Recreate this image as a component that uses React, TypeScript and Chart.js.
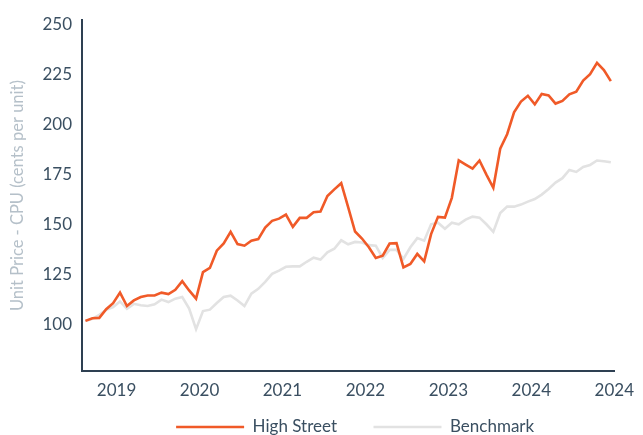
import React, { useEffect, useRef } from "react";
import { Chart, registerables } from "chart.js";

Chart.register(...registerables);

const months: string[] = [
  "Aug 2018", "Sep 2018", "Oct 2018", "Nov 2018", "Dec 2018",
  "Jan 2019", "Feb 2019", "Mar 2019", "Apr 2019", "May 2019", "Jun 2019", "Jul 2019", "Aug 2019", "Sep 2019", "Oct 2019", "Nov 2019", "Dec 2019",
  "Jan 2020", "Feb 2020", "Mar 2020", "Apr 2020", "May 2020", "Jun 2020", "Jul 2020", "Aug 2020", "Sep 2020", "Oct 2020", "Nov 2020", "Dec 2020",
  "Jan 2021", "Feb 2021", "Mar 2021", "Apr 2021", "May 2021", "Jun 2021", "Jul 2021", "Aug 2021", "Sep 2021", "Oct 2021", "Nov 2021", "Dec 2021",
  "Jan 2022", "Feb 2022", "Mar 2022", "Apr 2022", "May 2022", "Jun 2022", "Jul 2022", "Aug 2022", "Sep 2022", "Oct 2022", "Nov 2022", "Dec 2022",
  "Jan 2023", "Feb 2023", "Mar 2023", "Apr 2023", "May 2023", "Jun 2023", "Jul 2023", "Aug 2023", "Sep 2023", "Oct 2023", "Nov 2023", "Dec 2023",
  "Jan 2024", "Feb 2024", "Mar 2024", "Apr 2024", "May 2024", "Jun 2024", "Jul 2024", "Aug 2024", "Sep 2024", "Oct 2024", "Nov 2024", "Dec 2024",
];

const highStreet: number[] = [
  102, 103.3, 103.5, 107.8, 110.8, 116.1, 109.4, 112.2, 113.9, 114.7,
  114.7, 116.1, 115.4, 117.5, 121.8, 117.2, 113.1, 126.3, 128.4, 137,
  140.6, 146.4, 140.3, 139.5, 142, 142.8, 148.6, 151.9, 153, 155,
  148.9, 153.4, 153.4, 156.2, 156.5, 164.3, 167.6, 170.7, 158.8, 146.6,
  143.1, 138.7, 133.4, 134.5, 140.6, 140.8, 128.7, 130.4, 135.4, 131.7,
  145.3, 153.9, 153.5, 163.4, 182.1, 180, 178, 182, 175, 168.4,
  187.9, 195.1, 206, 211.4, 214.3, 210, 215.2, 214.5, 210.4, 211.7,
  215, 216.3, 221.9, 225.1, 230.7, 227.1, 221.6,
];

const benchmark: number[] = [
  102, 103, 105, 107.5, 108.9, 111.7, 108, 110.5, 109.8, 109.4,
  110.3, 112.6, 111.4, 113.1, 113.9, 108.1, 97.9, 106.9, 107.6, 110.9,
  113.9, 114.6, 112.2, 109.4, 115.6, 118, 121.5, 125.5, 127.1, 129,
  129.2, 129.2, 131.5, 133.5, 132.6, 136.2, 138, 142.2, 140.2, 141.4,
  141.1, 139.8, 139.5, 133.4, 137.4, 137.4, 132.9, 138.7, 143.3, 142,
  150.2, 151, 148, 151, 150.2, 152.5, 154, 153.5, 150.2, 146.4,
  155.8, 159, 159, 160, 161.5, 162.8, 165, 167.8, 171, 173.2,
  177.3, 176.3, 178.8, 179.8, 182, 181.6, 181.1,
];

const yTicks: number[] = [100, 125, 150, 175, 200, 225, 250];
const yMin = 77;
const yMax = 252;

const seriesNames = ["High Street", "Benchmark"];
const yTitle = "Unit Price - CPU (cents per unit)";

// x ticks: at the boundary before each January, plus the end of the last month
const xTickPositions: number[] = [
  ...(months.map((m, i) => (m.startsWith("Jan") ? i - 0.5 : null)).filter((v) => v !== null) as number[]),
  months.length - 0.5,
];
const xTickLabels: string[] = [
  ...months.filter((m) => m.startsWith("Jan")).map((m) => m.split(" ")[1]),
  months[months.length - 1].split(" ")[1],
];

const FONT = "Lato, 'Noto Sans', sans-serif";
const TEXT = "#3a4f61";
const AXIS = "#2e4052";

// moves the legend row up (closer to the x-axis labels) and slightly right
const legendNudge = {
  id: "legendNudge",
  afterLayout(chart: any) {
    const lg = chart.legend;
    if (!lg) return;
    lg.top = chart.chartArea.bottom + 11;
    lg.bottom = chart.height;
    lg.height = lg.bottom - lg.top;
    lg.left += 7;
    lg.right += 7;
  },
};

export default function App() {
  const ref = useRef<HTMLCanvasElement | null>(null);

  useEffect(() => {
    if (!ref.current) return;
    const chart = new Chart(ref.current, {
      type: "line",
      data: {
        datasets: [
          {
            label: seriesNames[0],
            data: highStreet.map((v, i) => ({ x: i, y: v })),
            borderColor: "#f05a28",
            backgroundColor: "#f05a28",
            borderWidth: 2.6,
            pointRadius: 0,
            tension: 0,
            fill: false,
          },
          {
            label: seriesNames[1],
            data: benchmark.map((v, i) => ({ x: i, y: v })),
            borderColor: "#e2e2e2",
            backgroundColor: "#e2e2e2",
            borderWidth: 2.6,
            pointRadius: 0,
            tension: 0,
            fill: false,
          },
        ],
      },
      plugins: [legendNudge],
      options: {
        animation: false,
        responsive: true,
        maintainAspectRatio: false,
        layout: { padding: { top: 18, right: 19, bottom: 0, left: 0 } },
        plugins: {
          tooltip: { enabled: false },
          legend: {
            position: "bottom",
            fullSize: false,
            maxHeight: 35,
            labels: {
              usePointStyle: true,
              pointStyle: "line",
              pointStyleWidth: 68,
              padding: 36.5,
              color: TEXT,
              font: { family: FONT, size: 17 },
            },
          },
        },
        scales: {
          x: {
            type: "linear",
            min: -0.5,
            max: months.length - 0.5,
            grid: { display: false, drawTicks: false },
            border: { display: true, color: AXIS, width: 2 },
            afterBuildTicks: (scale: any) => {
              scale.ticks = xTickPositions.map((v) => ({ value: v }));
            },
            afterFit: (scale: any) => {
              scale.height = 29;
            },
            ticks: {
              autoSkip: false,
              maxRotation: 0,
              padding: 9,
              color: TEXT,
              font: { family: FONT, size: 17 },
              callback: (_v: any, idx: number) => xTickLabels[idx],
            },
          },
          y: {
            type: "linear",
            min: yMin,
            max: yMax,
            grid: { display: false, drawTicks: false },
            border: { display: true, color: AXIS, width: 2 },
            afterBuildTicks: (scale: any) => {
              scale.ticks = yTicks.map((v) => ({ value: v }));
            },
            afterFit: (scale: any) => {
              scale.width = 82;
            },
            ticks: {
              padding: 10,
              color: TEXT,
              font: { family: FONT, size: 17 },
              callback: (v: any) => String(v),
            },
            title: {
              display: true,
              text: yTitle,
              color: "#b5c0c9",
              font: { family: FONT, size: 16.5 },
              padding: { top: 8, bottom: 4 },
            },
          },
        },
      },
    });
    return () => chart.destroy();
  }, []);

  return (
    <div style={{ position: "fixed", left: 0, top: 0, width: 643, height: 435, overflow: "hidden", background: "#fff" }}>
      <canvas ref={ref} />
    </div>
  );
}
